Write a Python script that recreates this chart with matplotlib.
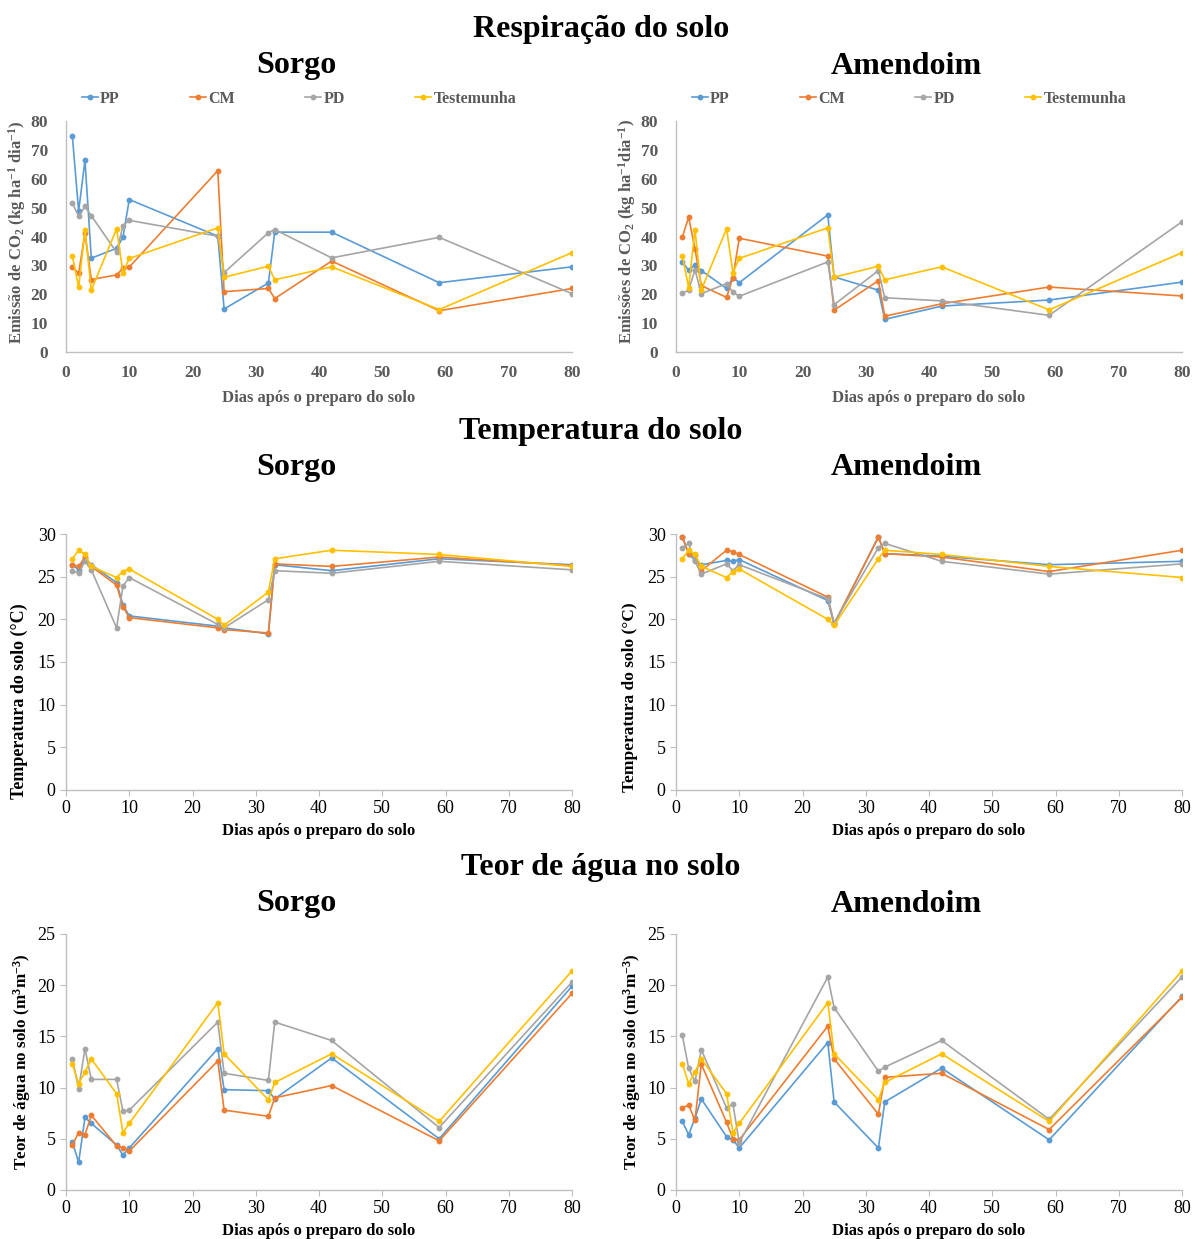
import matplotlib
matplotlib.use("Agg")
import matplotlib.pyplot as plt

plt.rcParams['font.family'] = ['Liberation Serif', 'DejaVu Serif']
plt.rcParams['mathtext.fontset'] = 'custom'
plt.rcParams['mathtext.rm'] = 'Liberation Serif'
plt.rcParams['mathtext.bf'] = 'Liberation Serif:bold'
plt.rcParams['mathtext.default'] = 'regular'

# dias apos o preparo do solo
dias = [1, 2, 3, 4, 8, 9, 10, 24, 25, 32, 33, 42, 59, 80]
series = ["PP", "CM", "PD", "Testemunha"]
colors = ["#5B9BD5", "#ED7D31", "#A5A5A5", "#FFC000"]

# respiracao do solo (kg CO2 ha-1 dia-1)
resp_sorgo_pp = [74.9, 48.8, 66.4, 32.5, 35.9, 39.7, 52.8, 40.1, 14.9, 23.9, 41.5, 41.5, 24.0, 29.5]
resp_sorgo_cm = [29.5, 27.2, 41.2, 25.1, 26.7, 29.0, 29.4, 62.8, 20.9, 22.0, 18.5, 31.5, 14.3, 22.0]
resp_sorgo_pd = [51.6, 47.0, 50.4, 47.2, 34.5, 43.7, 45.6, 40.1, 27.5, 41.3, 42.4, 32.6, 39.7, 20.2]
resp_sorgo_t = [33.3, 22.4, 42.3, 21.4, 42.7, 27.5, 32.4, 43.0, 25.9, 29.7, 25.0, 29.5, 14.7, 34.4]

resp_amend_pp = [31.2, 28.3, 30.2, 28.2, 22.0, 25.8, 24.0, 47.5, 26.0, 21.4, 11.3, 15.9, 18.0, 24.2]
resp_amend_cm = [39.8, 46.7, 35.7, 23.0, 18.9, 25.8, 39.4, 33.2, 14.5, 24.7, 12.4, 16.7, 22.5, 19.4]
resp_amend_pd = [20.4, 21.4, 28.5, 20.2, 23.7, 20.7, 19.3, 31.2, 16.4, 28.2, 18.8, 17.7, 12.7, 45.1]
resp_amend_t = [33.3, 22.3, 42.4, 21.5, 42.7, 27.5, 32.4, 43.0, 25.9, 29.7, 25.0, 29.5, 14.6, 34.4]

# temperatura do solo (C)
temp_sorgo_pp = [26.4, 25.8, 27.2, 26.4, 24.3, 21.7, 20.4, 19.2, 19.0, 18.3, 26.4, 25.7, 27.1, 26.4]
temp_sorgo_cm = [26.4, 26.2, 27.3, 26.2, 24.0, 21.5, 20.2, 19.0, 18.8, 18.4, 26.5, 26.2, 27.3, 26.3]
temp_sorgo_pd = [25.7, 25.4, 26.8, 25.8, 19.0, 23.9, 24.9, 19.4, 19.0, 22.3, 25.7, 25.4, 26.8, 25.8]
temp_sorgo_t = [27.1, 28.1, 27.6, 26.2, 24.9, 25.6, 25.9, 20.0, 19.3, 23.2, 27.1, 28.1, 27.6, 26.2]

temp_amend_pp = [29.7, 27.7, 26.9, 26.4, 26.9, 26.8, 27.0, 22.2, 19.4, 29.7, 27.7, 27.4, 26.4, 26.8]
temp_amend_cm = [29.6, 27.7, 27.5, 25.7, 28.1, 27.9, 27.6, 22.6, 19.5, 29.6, 27.7, 27.3, 25.6, 28.1]
temp_amend_pd = [28.4, 28.9, 26.8, 25.3, 26.5, 25.7, 26.4, 22.4, 19.6, 28.4, 28.9, 26.8, 25.3, 26.5]
temp_amend_t = [27.1, 28.1, 27.6, 26.2, 24.9, 25.6, 25.9, 20.0, 19.3, 27.1, 28.1, 27.6, 26.2, 24.9]

# teor de agua no solo (m3 m-3)
agua_sorgo_pp = [4.7, 2.7, 7.1, 6.5, 4.4, 3.4, 4.1, 13.8, 9.8, 9.7, 8.9, 12.9, 5.0, 19.9]
agua_sorgo_cm = [4.4, 5.6, 5.4, 7.3, 4.3, 4.1, 3.8, 12.6, 7.8, 7.2, 9.0, 10.2, 4.8, 19.2]
agua_sorgo_pd = [12.8, 9.9, 13.8, 10.8, 10.8, 7.7, 7.8, 16.4, 11.4, 10.7, 16.4, 14.6, 6.1, 20.3]
agua_sorgo_t = [12.3, 10.4, 11.5, 12.8, 9.4, 5.6, 6.5, 18.3, 13.3, 8.8, 10.5, 13.3, 6.7, 21.4]

agua_amend_pp = [6.7, 5.4, 7.0, 8.9, 5.2, 4.9, 4.1, 14.4, 8.6, 4.1, 8.6, 11.9, 4.9, 18.9]
agua_amend_cm = [8.0, 8.3, 6.8, 12.3, 6.6, 5.0, 4.9, 16.0, 12.8, 7.4, 11.0, 11.4, 5.9, 18.8]
agua_amend_pd = [15.1, 11.9, 10.6, 13.7, 8.0, 8.4, 4.6, 20.8, 17.8, 11.6, 12.0, 14.6, 6.9, 20.8]
agua_amend_t = [12.3, 10.4, 11.5, 12.8, 9.4, 5.6, 6.5, 18.3, 13.3, 8.8, 10.5, 13.3, 6.7, 21.4]

W, H = 1193, 1239
fig = plt.figure(figsize=(W / 100, H / 100), dpi=100)

GRAY_TXT = "#595959"
SPINE = "#BFBFBF"


def px_axes(x0, top, x1, bottom):
    return fig.add_axes([x0 / W, 1 - bottom / H, (x1 - x0) / W, (bottom - top) / H])


def draw(ax, data, ymax, ystep, ylabel, top_row, label_y=0.5, label_size=12, label_x=38):
    for vals, name, c in zip(data, series, colors):
        ax.plot(dias, vals, color=c, lw=1.2, marker="o", ms=3.2, label=name)
    ax.set_xlim(0, 80)
    ax.set_ylim(0, ymax)
    ax.set_xticks(range(0, 81, 10))
    ax.set_yticks(range(0, ymax + 1, ystep))
    for s in ("top", "right"):
        ax.spines[s].set_visible(False)
    for s in ("left", "bottom"):
        ax.spines[s].set_color(SPINE)
        ax.spines[s].set_linewidth(1.0)
    if top_row:
        ax.tick_params(axis="x", length=0, labelsize=12.5, labelcolor=GRAY_TXT, pad=9)
        ax.tick_params(axis="y", length=0, labelsize=12.5, labelcolor=GRAY_TXT, pad=13)
        for lab in ax.get_xticklabels() + ax.get_yticklabels():
            lab.set_fontweight("bold")
        ax.set_xlabel("Dias após o preparo do solo", fontsize=12, fontweight="bold",
                      color=GRAY_TXT, labelpad=7)
        ax.set_ylabel(ylabel, fontsize=label_size, fontweight="bold", color=GRAY_TXT)
        ax.legend(loc="lower center", bbox_to_anchor=((299 - 66) / 506, 1.035), ncol=4,
                  frameon=False, prop={"weight": "bold", "size": 11.5},
                  labelcolor=GRAY_TXT, handlelength=1.0, handletextpad=0.15,
                  columnspacing=4.4, borderaxespad=0)
    else:
        ax.tick_params(length=4, color=SPINE, labelsize=13, labelcolor="black")
        ax.set_xlabel("Dias após o preparo do solo", fontsize=12, fontweight="bold",
                      color="black", labelpad=4)
        ax.set_ylabel(ylabel, fontsize=label_size, fontweight="bold", color="black")
    ax.yaxis.set_label_coords(-label_x / 506, label_y)


# linha 1: respiracao
ax = px_axes(66, 121, 572, 352)
draw(ax, [resp_sorgo_pp, resp_sorgo_cm, resp_sorgo_pd, resp_sorgo_t], 80, 10,
     r"Emissão de CO$_2$ (kg ha$^{-1}$ dia$^{-1}$)", True, 0.52)
ax = px_axes(676, 121, 1182, 352)
draw(ax, [resp_amend_pp, resp_amend_cm, resp_amend_pd, resp_amend_t], 80, 10,
     r"Emissões de CO$_2$ (kg ha$^{-1}$dia$^{-1}$)", True, 0.52)

# linha 2: temperatura
ax = px_axes(66, 534, 572, 790)
draw(ax, [temp_sorgo_pp, temp_sorgo_cm, temp_sorgo_pd, temp_sorgo_t], 30, 5,
     "Temperatura do solo (°C)", False, (790 - 701) / 256, 13)
ax = px_axes(676, 534, 1182, 790)
draw(ax, [temp_amend_pp, temp_amend_cm, temp_amend_pd, temp_amend_t], 30, 5,
     "Temperatura do solo (°C)", False, (790 - 697) / 256, 12.5)

# linha 3: agua
ax = px_axes(66, 934, 572, 1190)
draw(ax, [agua_sorgo_pp, agua_sorgo_cm, agua_sorgo_pd, agua_sorgo_t], 25, 5,
     r"Teor de água no solo (m$^3$m$^{-3}$)", False, 0.5, 12.3, 33)
ax = px_axes(676, 934, 1182, 1190)
draw(ax, [agua_amend_pp, agua_amend_cm, agua_amend_pd, agua_amend_t], 25, 5,
     r"Teor de água no solo (m$^3$m$^{-3}$)", False, 0.5, 12.3, 33)


def ftext(x, y, s, size):
    fig.text(x / W, 1 - y / H, s, ha="center", va="center", fontsize=size,
             fontweight="bold", color="black")


ftext(601, 29, "Respiração do solo", 23)
ftext(601, 432, "Temperatura do solo", 23)
ftext(601, 867, "Teor de água no solo", 23)
for y in (66, 468, 904):
    ftext(296, y, "Sorgo", 23)
    ftext(906, y, "Amendoim", 23)

fig.savefig("out.png", dpi=100)
